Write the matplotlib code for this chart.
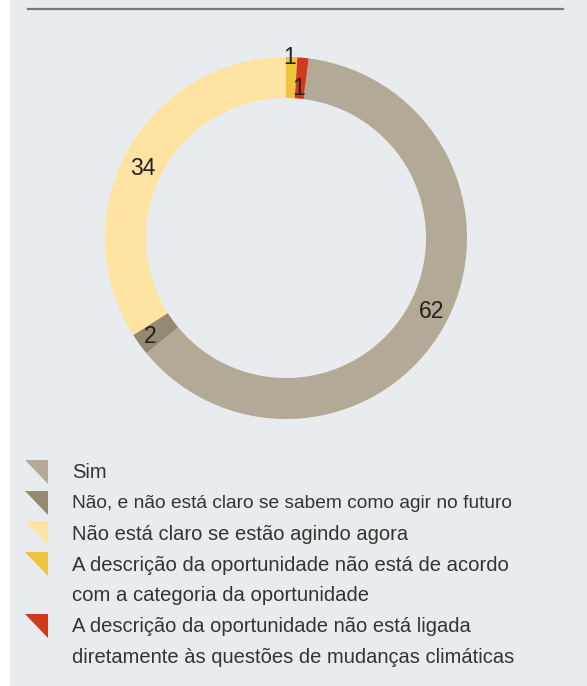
import matplotlib.pyplot as plt
from matplotlib.patches import Rectangle, Polygon
import numpy as np

# data (legend order, clockwise around the ring)
categories = ['Sim',
              'Não, e não está claro se sabem como agir no futuro',
              'Não está claro se estão agindo agora',
              'A descrição da oportunidade não está de acordo\ncom a categoria da oportunidade',
              'A descrição da oportunidade não está ligada\ndiretamente às questões de mudanças climáticas']
values = [62, 2, 34, 1, 1]
colors = ['#b2aa96', '#958a70', '#ffe3a3', '#eec43f', '#cf3a1d']

W, H = 587, 686
BG = '#e9ecee'
TXT = '#333333'
FONT = 'Liberation Sans'

fig = plt.figure(figsize=(W / 100, H / 100), dpi=100)
fig.patch.set_facecolor('white')


def fx(px):
    return px / W


def fy(py):
    return 1 - py / H


# grey panel + top rule
fig.patches.append(Rectangle((fx(10), 0), 1 - fx(10), 1, transform=fig.transFigure,
                             facecolor=BG, edgecolor='none', zorder=-5))
fig.add_artist(plt.Line2D([fx(28), fx(563)], [fy(8.5), fy(8.5)], color='#7a7a7a', lw=1.6))

# donut
cx, cy, r = 286, 238, 181
ax = fig.add_axes([fx(cx - r), fy(cy + r), 2 * r / W, 2 * r / H])
ax.set_facecolor('none')
ax.set_zorder(2)
start = 90 - 360 * sum(values[3:]) / sum(values)
wedges, _ = ax.pie(values, colors=colors, startangle=start, counterclock=False, radius=1,
                   wedgeprops=dict(width=41 / 181, edgecolor='none', linewidth=0))
ax.set_xlim(-1, 1)
ax.set_ylim(-1, 1)
ax.set_aspect('equal')
ax.axis('off')

# value labels sit on the ring; the two small ones are nudged like in the original
label_r = [0.90, 0.93, 0.88, 1.0, 0.83]
label_shift = [-1.8, 0, -2.8, -0.5, -0.4]
for w, v, lr, sh in zip(wedges, values, label_r, label_shift):
    ang = np.deg2rad((w.theta1 + w.theta2) / 2 - sh)
    ax.text(lr * np.cos(ang), lr * np.sin(ang), str(v), ha='center', va='center',
            fontsize=16.5, color='#222222', family=FONT)

# legend (second entry is set tighter in the original)
sizes = [14.5, 13.8, 14.5, 14.6, 14.5]
line_h = 30.7
y = 473
for cat, col, fs in zip(categories, colors, sizes):
    yc = y - 1
    tri = Polygon([(fx(25), fy(yc - 12)), (fx(48), fy(yc - 12)), (fx(48), fy(yc + 12))],
                  closed=True, transform=fig.transFigure, facecolor=col, edgecolor='none')
    fig.patches.append(tri)
    for line in cat.split('\n'):
        fig.text(fx(72), fy(y), line, ha='left', va='center', fontsize=fs,
                 color=TXT, family=FONT)
        y += line_h

fig.savefig('out.png', dpi=100, facecolor=fig.get_facecolor())
